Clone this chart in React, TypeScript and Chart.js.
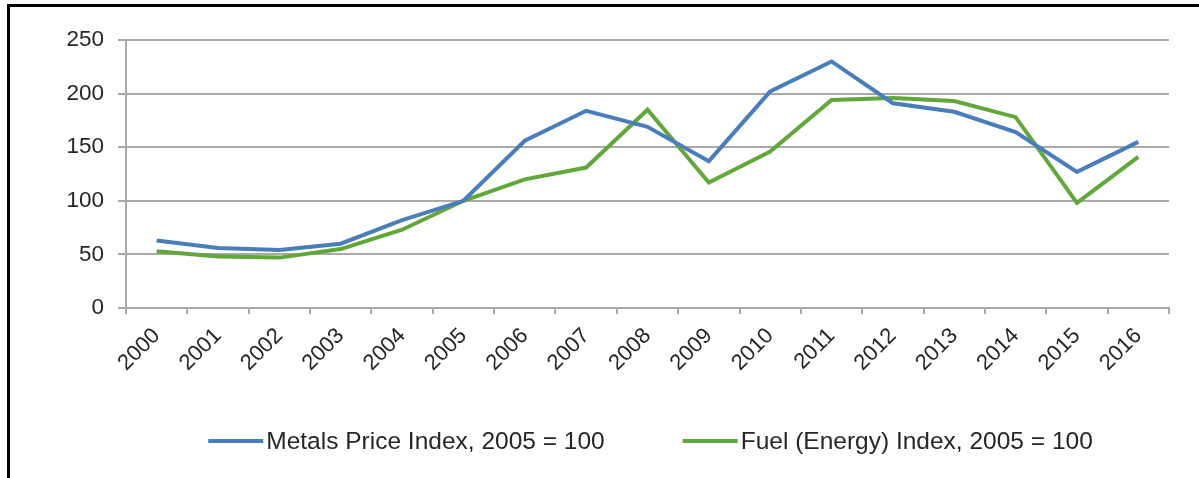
import React, { useEffect, useRef } from "react";
import { Chart, registerables } from "chart.js";

Chart.register(...registerables);

const years = [
  "2000", "2001", "2002", "2003", "2004", "2005", "2006", "2007", "2008",
  "2009", "2010", "2011", "2012", "2013", "2014", "2015", "2016",
];
const metalsIndex = [63, 56, 54, 60, 82, 100, 156, 184, 169, 137, 202, 230, 191, 183, 164, 127, 155];
const fuelIndex = [53, 48, 47, 55, 73, 100, 120, 131, 185, 117, 146, 194, 196, 193, 178, 98, 141];
const seriesLabels = ["Metals Price Index, 2005 = 100", "Fuel (Energy) Index, 2005 = 100"];
const seriesColors = ["#4a7ebb", "#62a73b"];
const yMin = 0;
const yMax = 250;
const yStep = 50;

const FONT = "'Liberation Sans', Arial, Helvetica, sans-serif";
const TEXT = "#262626";
const GRID = "#a9a9a9";

const lineLegend = {
  id: "lineLegend",
  afterDraw(chart: any) {
    const { ctx, chartArea } = chart;
    ctx.save();
    ctx.font = `24.5px ${FONT}`;
    const lineLen = 55;
    const gap = 3;
    const itemGap = 78;
    const items = chart.data.datasets.map((ds: any) => ({
      text: ds.label as string,
      color: ds.borderColor as string,
      w: ctx.measureText(ds.label).width as number,
    }));
    const total =
      items.reduce((s: number, it: any) => s + lineLen + gap + it.w, 0) +
      itemGap * (items.length - 1);
    let x = (chartArea.left + chartArea.right) / 2 - total / 2 + 3;
    const y = chartArea.bottom + 133;
    items.forEach((it: any) => {
      ctx.strokeStyle = it.color;
      ctx.lineWidth = 4;
      ctx.beginPath();
      ctx.moveTo(x, y);
      ctx.lineTo(x + lineLen, y);
      ctx.stroke();
      x += lineLen + gap;
      ctx.fillStyle = TEXT;
      ctx.textBaseline = "middle";
      ctx.textAlign = "left";
      ctx.fillText(it.text, x, y + 1);
      x += it.w + itemGap;
    });
    ctx.restore();
  },
};

export default function App() {
  const canvasRef = useRef<HTMLCanvasElement | null>(null);

  useEffect(() => {
    if (!canvasRef.current) return;
    Chart.defaults.font.family = FONT;
    const chart = new Chart(canvasRef.current, {
      type: "line",
      data: {
        labels: years,
        datasets: [
          {
            label: seriesLabels[0],
            data: metalsIndex,
            borderColor: seriesColors[0],
            backgroundColor: seriesColors[0],
            borderWidth: 4,
            pointRadius: 0,
            tension: 0,
          },
          {
            label: seriesLabels[1],
            data: fuelIndex,
            borderColor: seriesColors[1],
            backgroundColor: seriesColors[1],
            borderWidth: 4,
            pointRadius: 0,
            tension: 0,
          },
        ],
      },
      options: {
        animation: false,
        responsive: true,
        maintainAspectRatio: false,
        layout: { padding: { top: 40, right: 30, left: 0, bottom: 0 } },
        plugins: {
          legend: { display: false },
          tooltip: { enabled: false },
        },
        scales: {
          x: {
            offset: true,
            grid: {
              offset: true,
              drawOnChartArea: false,
              drawTicks: true,
              tickLength: 6,
              color: GRID,
              lineWidth: 2,
            },
            border: { color: GRID, width: 2 },
            ticks: {
              autoSkip: false,
              minRotation: 45,
              maxRotation: 45,
              font: { size: 22 },
              color: TEXT,
              padding: 9,
            },
            afterFit: (s: any) => {
              s.height = 170;
            },
          },
          y: {
            min: yMin,
            max: yMax,
            ticks: {
              stepSize: yStep,
              font: { size: 22.5 },
              color: TEXT,
              padding: 14,
            },
            grid: { color: GRID, lineWidth: 2, tickLength: 8 },
            border: { color: GRID, width: 2 },
            afterFit: (s: any) => {
              s.width = 126;
            },
          },
        },
      },
      plugins: [lineLegend],
    });
    return () => chart.destroy();
  }, []);

  return (
    <div
      style={{
        position: "fixed",
        left: 0,
        top: 0,
        width: 1199,
        height: 478,
        background: "#fff",
        overflow: "hidden",
      }}
    >
      <canvas ref={canvasRef} style={{ width: "100%", height: "100%" }} />
      <div
        style={{
          position: "absolute",
          left: 7,
          top: 4,
          right: -10,
          bottom: -10,
          borderTop: "3px solid #000",
          borderLeft: "3px solid #000",
          pointerEvents: "none",
        }}
      />
    </div>
  );
}
